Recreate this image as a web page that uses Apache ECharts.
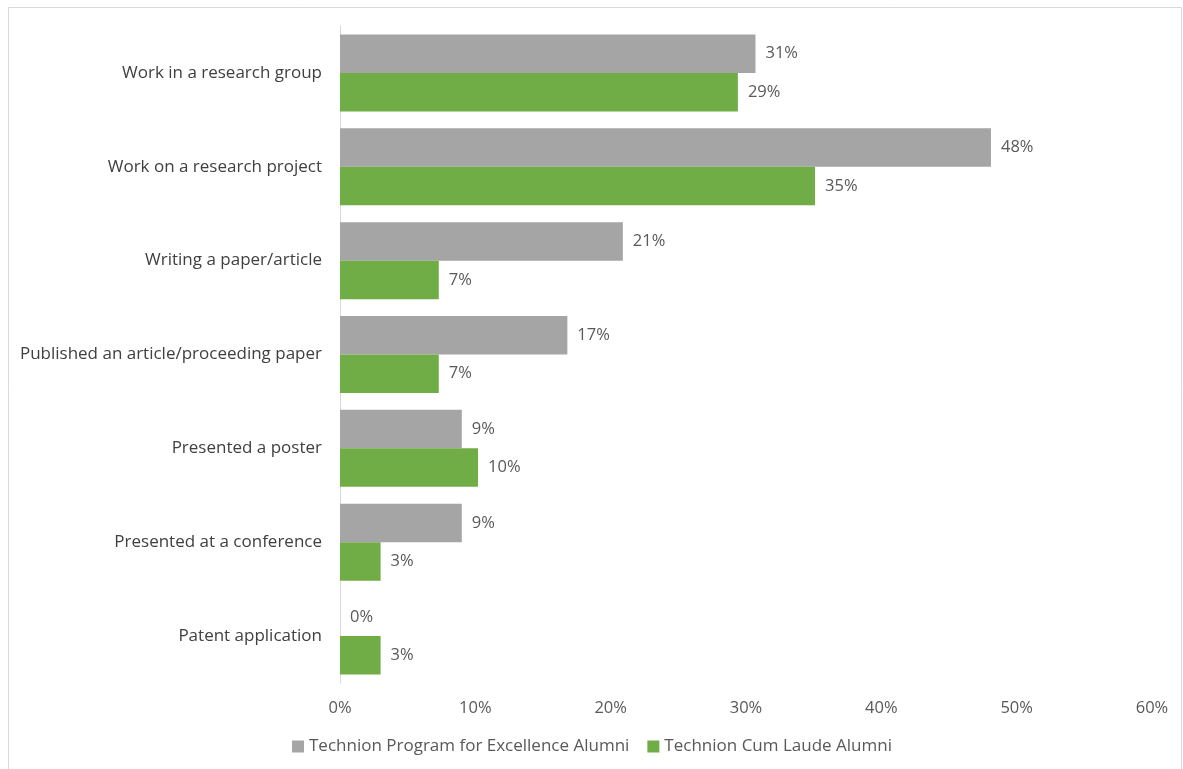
<!DOCTYPE html>
<html>
<head>
<meta charset="utf-8">
<script src="https://cdn.jsdelivr.net/npm/echarts@6/dist/echarts.min.js"></script>
<style>
html,body{margin:0;padding:0;background:#fff;}
#main{width:1183px;height:769px;}
</style>
</head>
<body>
<div id="main"></div>
<script>
const categories = [
  "Work in a research group",
  "Work on a research project",
  "Writing a paper/article",
  "Published an article/proceeding paper",
  "Presented a poster",
  "Presented at a conference",
  "Patent application"
];
const seriesNames = ["Technion Program for Excellence Alumni", "Technion Cum Laude Alumni"];
const excellenceValues = [30.7, 48.1, 20.9, 16.8, 9.0, 9.0, 0];
const cumLaudeValues = [29.4, 35.1, 7.3, 7.3, 10.2, 3.0, 3.0];
const xTicks = [0, 10, 20, 30, 40, 50, 60];

const FONT = "'Open Sans', 'Noto Sans', sans-serif";
const chart = echarts.init(document.getElementById('main'), null, {renderer: 'canvas'});

const labelCfg = {
  show: true,
  position: 'right',
  distance: 10,
  color: '#595959',
  fontSize: 16.5,
  fontFamily: FONT,
  formatter: p => Math.round(p.value) + '%'
};

chart.setOption({
  animation: false,
  backgroundColor: '#fff',
  textStyle: {fontFamily: FONT},
  graphic: [{
    type: 'rect',
    shape: {x: 8.5, y: 7.5, width: 1173, height: 780},
    style: {fill: 'none', stroke: '#d9d9d9', lineWidth: 1},
    silent: true
  }],
  grid: {left: 340, right: 31, top: 26, bottom: 86, containLabel: false},
  legend: {
    bottom: 9,
    left: 287,
    itemWidth: 12,
    itemHeight: 12,
    itemGap: 18,
    icon: 'rect',
    textStyle: {color: '#595959', fontSize: 17, fontFamily: FONT},
    data: seriesNames
  },
  xAxis: {
    type: 'value',
    min: xTicks[0],
    max: xTicks[xTicks.length - 1],
    interval: 10,
    axisLine: {show: false},
    axisTick: {show: false},
    splitLine: {show: false},
    axisLabel: {color: '#595959', fontSize: 16.5, fontFamily: FONT, margin: 17, formatter: v => v + '%'}
  },
  yAxis: {
    type: 'category',
    inverse: true,
    data: categories,
    axisLine: {show: true, lineStyle: {color: '#d9d9d9', width: 1}},
    axisTick: {show: false},
    axisLabel: {color: '#404040', fontSize: 17, fontFamily: FONT, margin: 18}
  },
  series: [
    {
      name: seriesNames[0],
      type: 'bar',
      data: excellenceValues,
      barWidth: 38.5,
      barGap: '0%',
      itemStyle: {color: '#A5A5A5'},
      label: labelCfg
    },
    {
      name: seriesNames[1],
      type: 'bar',
      data: cumLaudeValues,
      barWidth: 38.5,
      barGap: '0%',
      itemStyle: {color: '#70AD47'},
      label: labelCfg
    }
  ]
});
</script>
</body>
</html>
